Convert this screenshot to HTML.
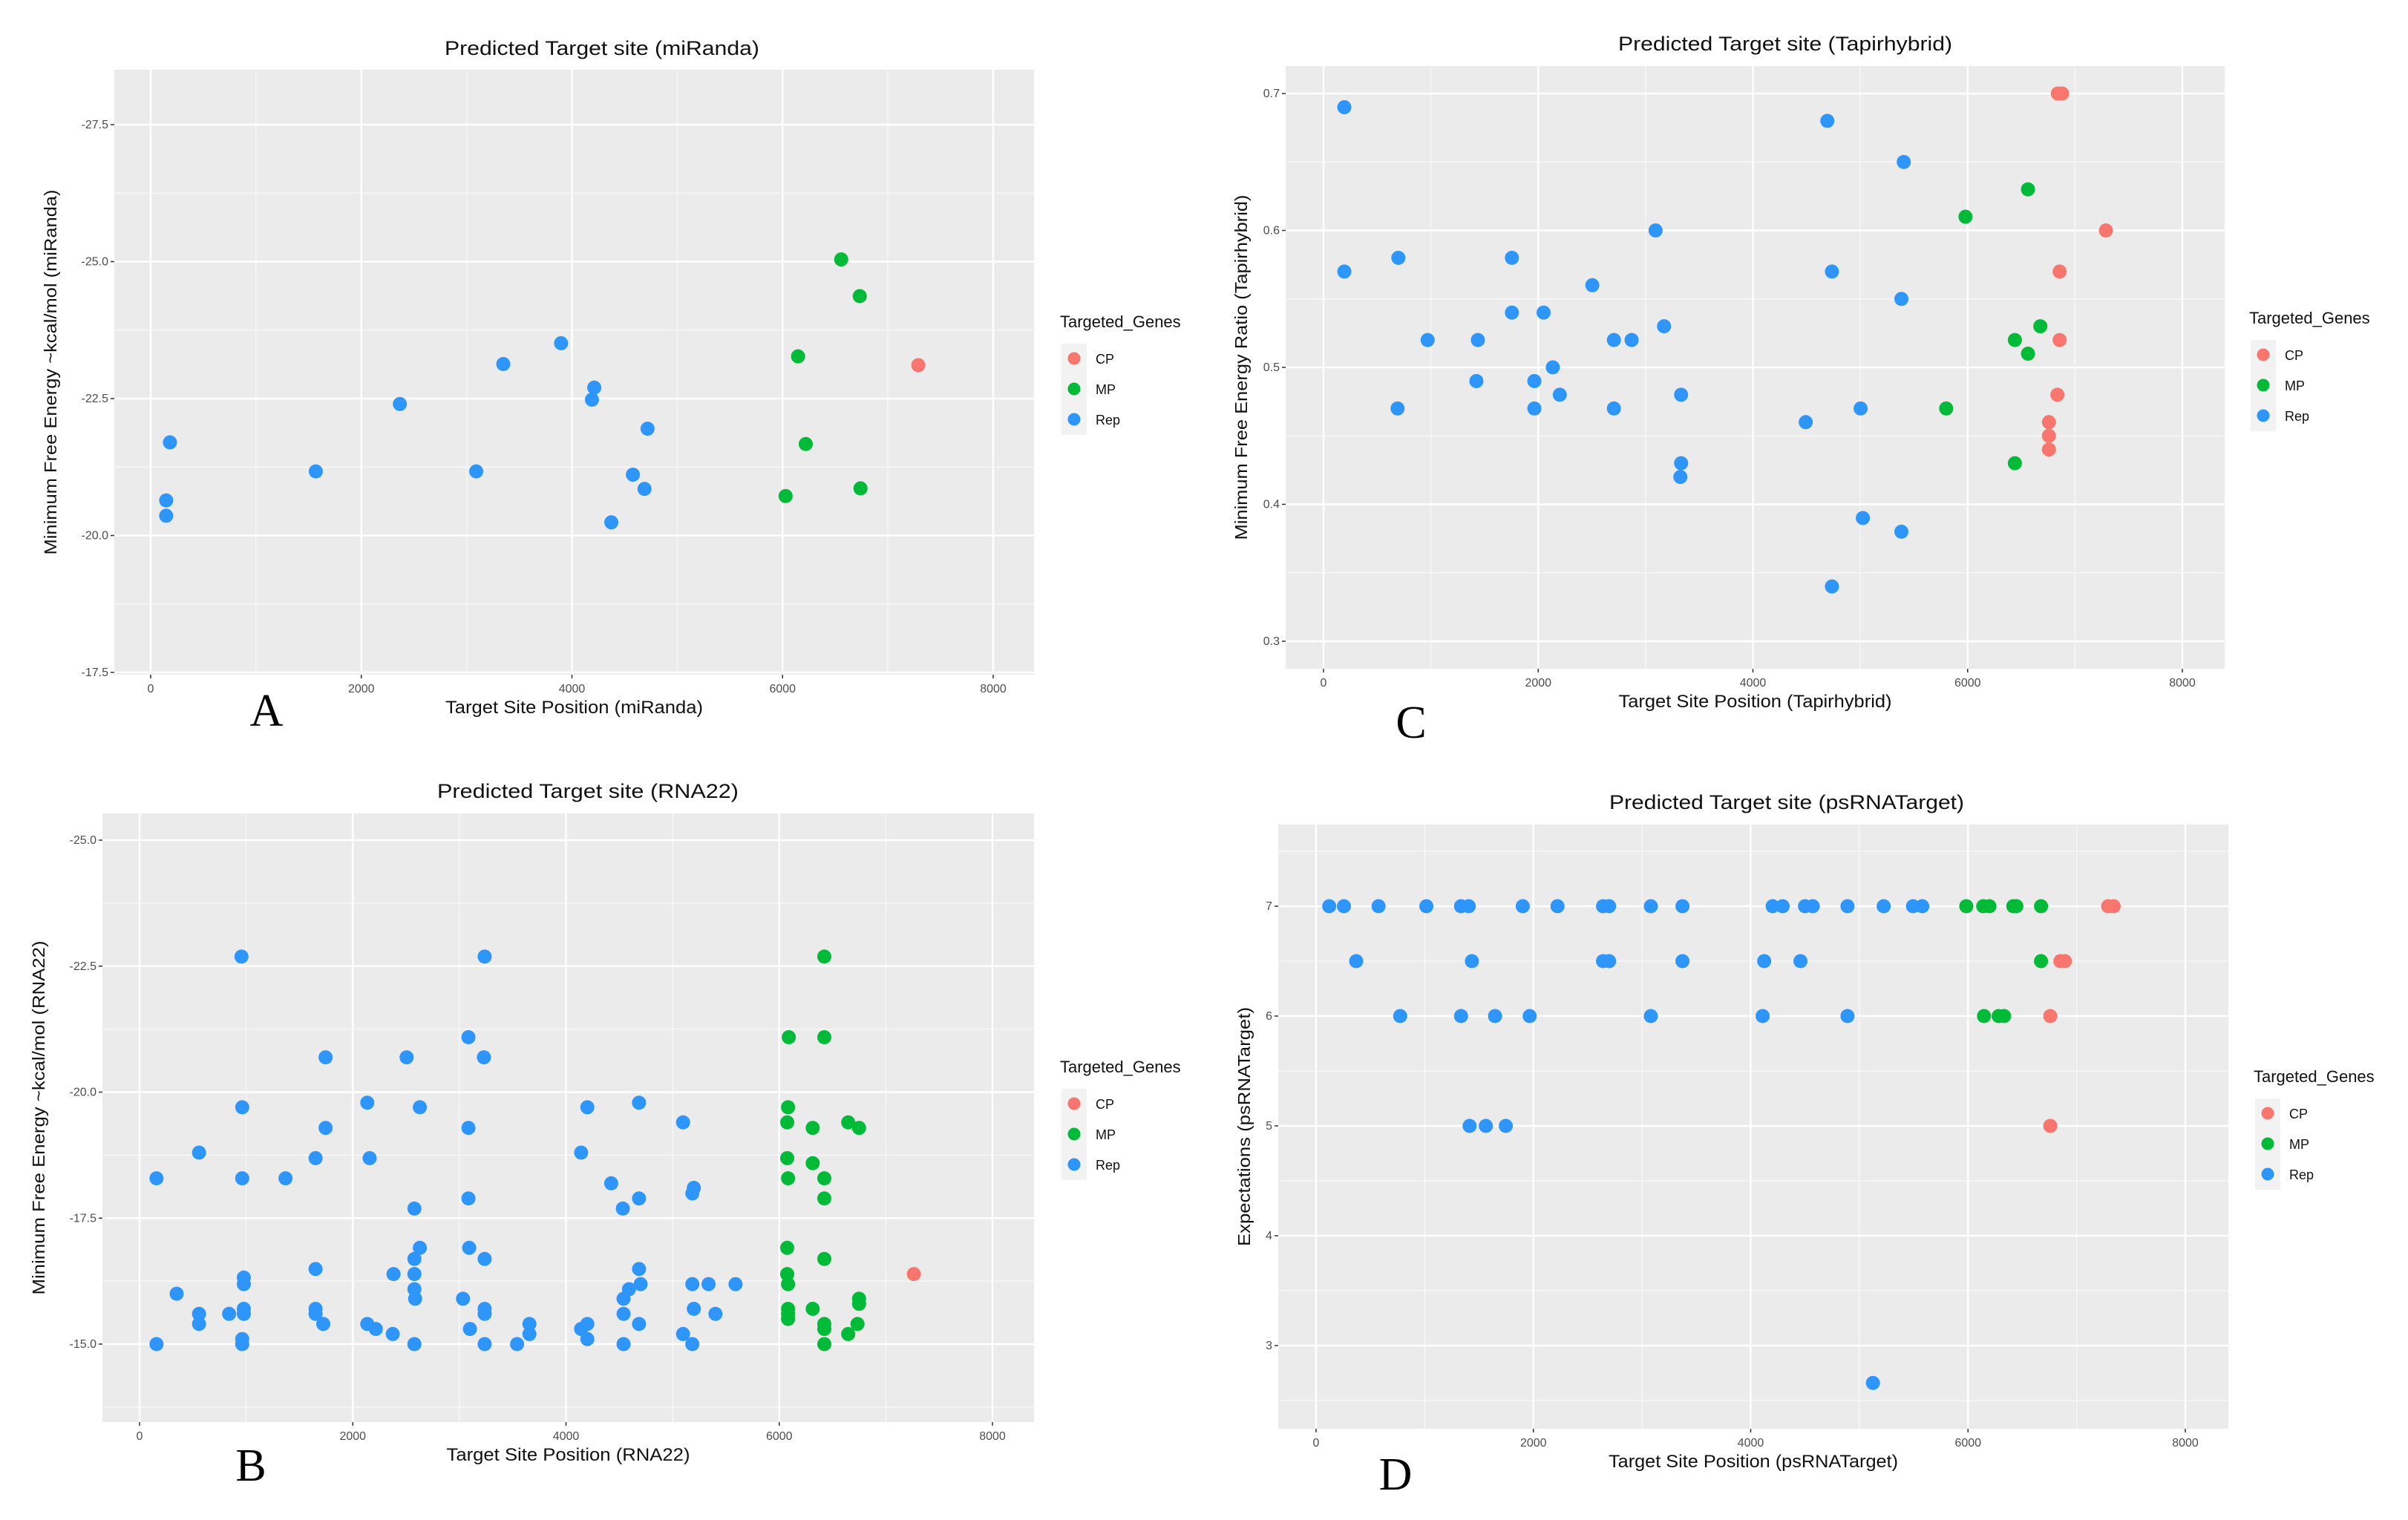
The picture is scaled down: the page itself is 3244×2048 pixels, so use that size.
<!DOCTYPE html>
<html><head><meta charset="utf-8">
<style>
html,body{margin:0;padding:0;background:#fff;}
svg{display:block;font-family:"Liberation Sans",sans-serif;}
</style></head>
<body>
<svg id="fig" width="3244" height="2048" viewBox="0 0 3244 2048" xmlns="http://www.w3.org/2000/svg"></svg>
<script>
// ---------- Panel A (miRanda) ----------
const aRepX=[183,147,147,1568,2366,3091,3348,3897,4212,4190,4718,4579,4689,4374];
const aRepY=[-21.7,-20.64,-20.36,-21.17,-22.4,-21.17,-23.13,-23.51,-22.7,-22.48,-21.95,-21.11,-20.85,-20.24];
const aMpX=[6557,6733,6147,6220,6029,6740];
const aMpY=[-25.04,-24.37,-23.27,-21.67,-20.72,-20.86];
const aCpX=[7289];
const aCpY=[-23.11];
const aYTicks=[-27.5,-25.0,-22.5,-20.0,-17.5];
const aYLabels=["-27.5","-25.0","-22.5","-20.0","-17.5"];
// ---------- Panel C (Tapirhybrid) ----------
const cRepX=[194,194,697,690,970,1438,1424,1755,1755,2050,2136,1964,1964,2201,2504,2705,2870,2705,3093,3172,3331,3331,3324,4693,5405,4736,5383,4492,5003,5024,5383,4736];
const cRepY=[0.69,0.57,0.58,0.47,0.52,0.52,0.49,0.58,0.54,0.54,0.50,0.49,0.47,0.48,0.56,0.52,0.52,0.47,0.60,0.53,0.48,0.43,0.42,0.68,0.65,0.57,0.55,0.46,0.47,0.39,0.38,0.34];
const cMpX=[6562,5980,6677,6440,6562,5800,6440];
const cMpY=[0.63,0.61,0.53,0.52,0.51,0.47,0.43];
const cCpX=[6840,6880,7288,6857,6857,6836,6757,6757,6757];
const cCpY=[0.70,0.70,0.60,0.57,0.52,0.48,0.46,0.45,0.44];
const cYTicks=[0.3,0.4,0.5,0.6,0.7];
const cYLabels=["0.3","0.4","0.5","0.6","0.7"];
// ---------- Panel B (RNA22) ----------
const bRepX=[956,3237,3085,1745,2505,3230,2136,963,2629,4685,4200,5098,1745,3085,558,1651,2158,4142,159,963,1369,4424,5199,5185,3085,4685,2578,4533,2629,3092,2578,3237,1651,4685,978,978,2382,2578,2578,2585,348,5185,5337,5590,4700,4591,4540,3034,558,558,840,978,978,1651,1651,1723,3237,3237,5199,5402,4540,2136,2216,2375,3099,3657,3657,4200,4142,4200,4685,5098,159,963,963,2578,3237,3541,4540,5185];
const bRepY=[-22.69,-22.69,-21.09,-20.69,-20.69,-20.69,-19.79,-19.70,-19.70,-19.79,-19.70,-19.40,-19.29,-19.29,-18.80,-18.69,-18.69,-18.80,-18.29,-18.29,-18.29,-18.19,-18.10,-17.99,-17.89,-17.89,-17.69,-17.69,-16.91,-16.91,-16.69,-16.69,-16.49,-16.49,-16.32,-16.19,-16.39,-16.39,-16.09,-15.90,-16.00,-16.19,-16.19,-16.19,-16.19,-16.09,-15.90,-15.90,-15.60,-15.40,-15.60,-15.70,-15.60,-15.70,-15.60,-15.40,-15.70,-15.60,-15.70,-15.60,-15.60,-15.40,-15.30,-15.20,-15.30,-15.40,-15.20,-15.40,-15.30,-15.10,-15.40,-15.20,-15.00,-15.10,-15.00,-15.00,-15.00,-15.00,-15.00,-15.00];
const bMpX=[6423,6090,6423,6083,6075,6314,6647,6749,6075,6314,6083,6423,6423,6075,6423,6075,6083,6749,6749,6083,6083,6083,6314,6423,6423,6734,6647,6423];
const bMpY=[-22.69,-21.09,-21.09,-19.70,-19.40,-19.29,-19.40,-19.29,-18.69,-18.59,-18.29,-18.29,-17.89,-16.91,-16.69,-16.39,-16.19,-15.90,-15.80,-15.70,-15.60,-15.50,-15.70,-15.40,-15.30,-15.40,-15.20,-15.00];
const bCpX=[7263];
const bCpY=[-16.39];
const bYTicks=[-25.0,-22.5,-20.0,-17.5,-15.0];
const bYLabels=["-25.0","-22.5","-20.0","-17.5","-15.0"];
// ---------- Panel D (psRNATarget) ----------
const dRepX=[121,256,575,1015,1334,1405,1902,2222,2641,2697,3081,3372,4202,4294,4500,4571,4891,5224,5494,5579,369,1434,2641,2697,3372,4124,4458,774,1334,1647,1966,3081,4110,4891,1413,1562,1746,5125];
const dRepY=[7,7,7,7,7,7,7,7,7,7,7,7,7,7,7,7,7,7,7,7,6.5,6.5,6.5,6.5,6.5,6.5,6.5,6,6,6,6,6,6,6,5,5,5,2.66];
const dMpX=[5984,6140,6197,6417,6445,6672,6672,6147,6282,6332];
const dMpY=[7,7,7,7,7,7,6.5,6,6,6];
const dCpX=[7290,7340,6850,6892,6757,6757];
const dCpY=[7,7,6.5,6.5,6,5];
const dYTicks=[3,4,5,6,7];
const dYLabels=["3","4","5","6","7"];
// shared x ticks
const xTicks=[0,2000,4000,6000,8000];
const xLabels=["0","2000","4000","6000","8000"];
const legendLabels=["CP","MP","Rep"];
const COL={CP:"#F8766D",MP:"#00BA38",Rep:"#2E95FA"};

const NS="http://www.w3.org/2000/svg";
const svg=document.getElementById('fig');
function mk(tag,attrs,parent){const e=document.createElementNS(NS,tag);for(const k in attrs)e.setAttribute(k,attrs[k]);(parent||svg).appendChild(e);return e;}

function panel(cfg){
  const g=mk('g',{});
  
  
  const sx=v=>cfg.x0+(v-0)/8000*(cfg.x8-cfg.x0);
  const sy=v=>cfg.yA+(v-cfg.vA)/(cfg.vB-cfg.vA)*(cfg.yB-cfg.yA);
  const bg=mk('rect',{x:cfg.L,y:cfg.T,width:cfg.R-cfg.L,height:cfg.B-cfg.T,fill:'#EBEBEB'},g);
  
  
  for(let i=0;i<xTicks.length-1;i++){const v=(xTicks[i]+xTicks[i+1])/2;mk('line',{x1:sx(v),x2:sx(v),y1:cfg.T,y2:cfg.B,stroke:'#fff','stroke-width':1.2,opacity:0.7},g);}
  const yt=cfg.yTicks;const step=yt[1]-yt[0];
  for(let i=-1;i<yt.length;i++){const v=yt[0]+step*(i+0.5);const y=sy(v);if(y>cfg.T&&y<cfg.B)mk('line',{x1:cfg.L,x2:cfg.R,y1:y,y2:y,stroke:'#fff','stroke-width':1.2,opacity:0.7},g);}
  xTicks.forEach((v,i)=>{const x=sx(v);mk('line',{x1:x,x2:x,y1:cfg.T,y2:cfg.B,stroke:'#fff','stroke-width':2.4},g);
    mk('line',{x1:x,x2:x,y1:cfg.B,y2:cfg.B+5,stroke:'#333','stroke-width':1.5},g);
    const t=mk('text',{x:x,y:cfg.B+24,'text-anchor':'middle','font-size':16,fill:'#4D4D4D'},g);t.textContent=xLabels[i];
    
    });
  yt.forEach((v,i)=>{const y=sy(v);mk('line',{x1:cfg.L,x2:cfg.R,y1:y,y2:y,stroke:'#fff','stroke-width':2.4},g);
    mk('line',{x1:cfg.L-5,x2:cfg.L,y1:y,y2:y,stroke:'#333','stroke-width':1.5},g);
    const t=mk('text',{x:cfg.L-8,y:y+5,'text-anchor':'end','font-size':16,fill:'#4D4D4D'},g);t.textContent=cfg.yLabels[i];
    
    });
  [['CP',cfg.cpX,cfg.cpY],['MP',cfg.mpX,cfg.mpY],['Rep',cfg.repX,cfg.repY]].forEach(([k,xs,ys])=>{
    xs.forEach((v,i)=>{const c=mk('circle',{cx:sx(v),cy:sy(ys[i]),r:9.5,fill:COL[k]},g);
      
      });
  });
  const tt=mk('text',{x:cfg.titleX,y:cfg.titleY,'text-anchor':'middle','font-size':27,fill:'#111',textLength:cfg.tLen,lengthAdjust:'spacingAndGlyphs'},g);tt.textContent=cfg.title;
  
  
  const xt=mk('text',{x:(cfg.L+cfg.R)/2,y:cfg.B+52,'text-anchor':'middle','font-size':24,fill:'#111',textLength:cfg.xLen,lengthAdjust:'spacingAndGlyphs'},g);xt.textContent=cfg.xTitle;
  
  
  const ytl=mk('text',{x:0,y:0,'text-anchor':'middle','font-size':23,fill:'#111',textLength:cfg.yLen,lengthAdjust:'spacingAndGlyphs',transform:`translate(${cfg.yTitleX},${(cfg.T+cfg.B)/2}) rotate(-90)`},g);ytl.textContent=cfg.yTitle;
  
  
  const lt=mk('text',{x:cfg.legX,y:cfg.legY,'font-size':22,fill:'#111'},g);lt.textContent='Targeted_Genes';
  
  
  legendLabels.forEach((lab,i)=>{const ky=cfg.legY+22+i*41;
    mk('rect',{x:cfg.legX+2,y:ky,width:34,height:41,fill:'#F2F2F2'},g);
    const c=mk('circle',{cx:cfg.legX+19,cy:ky+20,r:8.5,fill:COL[lab]},g);
    
    
    const t=mk('text',{x:cfg.legX+48,y:ky+27,'font-size':18,fill:'#111'},g);t.textContent=lab;
    
    });
  const pl=mk('text',{x:cfg.letX,y:cfg.letY,'font-family':'"Liberation Serif",serif','font-size':62,fill:'#000','text-anchor':'middle'},g);pl.textContent=cfg.letter;
  
  
}

panel({id:'mirandaA',L:154,R:1393,T:94,B:909,x0:203,x8:1338,vA:-27.5,yA:168,vB:-17.5,yB:906,
  yTicks:aYTicks,yLabels:aYLabels,repX:aRepX,repY:aRepY,mpX:aMpX,mpY:aMpY,cpX:aCpX,cpY:aCpY,
  title:'Predicted Target site (miRanda)',titleX:811,titleY:74,tLen:424,xTitle:'Target Site Position (miRanda)',xLen:347,
  yTitle:'Minimum Free Energy ~kcal/mol (miRanda)',yLen:492,yTitleX:76,legX:1428,legY:441,letter:'A',letX:359,letY:978});
panel({id:'tapirC',L:1732,R:2997,T:89,B:901,x0:1783,x8:2940,vA:0.7,yA:126,vB:0.3,yB:864,
  yTicks:cYTicks,yLabels:cYLabels,repX:cRepX,repY:cRepY,mpX:cMpX,mpY:cMpY,cpX:cCpX,cpY:cCpY,
  title:'Predicted Target site (Tapirhybrid)',titleX:2405,titleY:68,tLen:450,xTitle:'Target Site Position (Tapirhybrid)',xLen:368,
  yTitle:'Minimum Free Energy Ratio (Tapirhybrid)',yLen:465,yTitleX:1680,legX:3030,legY:436,letter:'C',letX:1901,letY:994});
panel({id:'rna22B',L:138,R:1393,T:1096,B:1916,x0:188,x8:1337,vA:-25,yA:1132,vB:-15,yB:1811,
  yTicks:bYTicks,yLabels:bYLabels,repX:bRepX,repY:bRepY,mpX:bMpX,mpY:bMpY,cpX:bCpX,cpY:bCpY,
  title:'Predicted Target site (RNA22)',titleX:792,titleY:1075,tLen:406,xTitle:'Target Site Position (RNA22)',xLen:328,
  yTitle:'Minimum Free Energy ~kcal/mol (RNA22)',yLen:477,yTitleX:60,legX:1428,legY:1445,letter:'B',letX:338,letY:1995});
panel({id:'psrnaD',L:1722,R:3002,T:1111,B:1925,x0:1773,x8:2944,vA:7,yA:1221,vB:3,yB:1813,
  yTicks:dYTicks,yLabels:dYLabels,repX:dRepX,repY:dRepY,mpX:dMpX,mpY:dMpY,cpX:dCpX,cpY:dCpY,
  title:'Predicted Target site (psRNATarget)',titleX:2407,titleY:1090,tLen:478,xTitle:'Target Site Position (psRNATarget)',xLen:390,
  yTitle:'Expectations (psRNATarget)',yLen:322,yTitleX:1684,legX:3036,legY:1458,letter:'D',letX:1880,letY:2007});
</script>
</body></html>
